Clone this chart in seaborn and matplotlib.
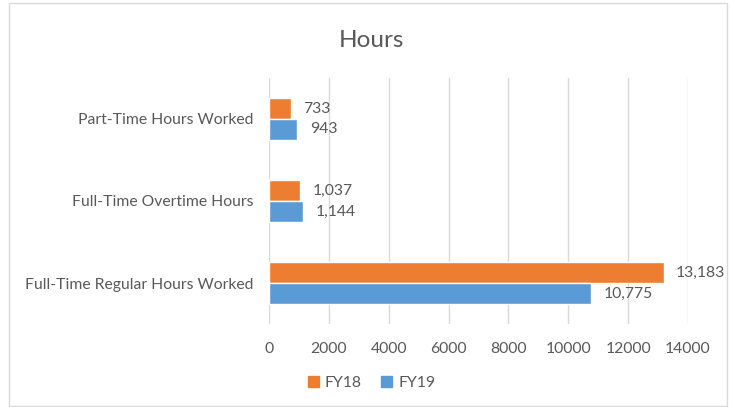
import numpy as np
import pandas as pd
import matplotlib.pyplot as plt
import matplotlib.patches as mpatches
import seaborn as sns

categories = ["Part-Time Hours Worked", "Full-Time Overtime Hours", "Full-Time Regular Hours Worked"]
fy18 = [733, 1037, 13183]
fy19 = [943, 1144, 10775]
years = ["FY18", "FY19"]

df = pd.DataFrame({
    "category": categories * 2,
    "hours": fy18 + fy19,
    "year": ["FY18"] * 3 + ["FY19"] * 3,
})

sns.set_style("white")
plt.rcParams["font.family"] = ["Lato", "DejaVu Sans"]
txt = "#595959"
colors = {"FY18": "#ED7D31", "FY19": "#5B9BD5"}
fs = 11.3

fig = plt.figure(figsize=(7.34, 4.07), dpi=100)
ax = fig.add_axes([0.3665, 0.2039, 0.9373 - 0.3665, 0.8084 - 0.2039])

sns.barplot(data=df, y="category", x="hours", hue="year", order=categories,
            hue_order=years, palette=colors, orient="h", width=0.51,
            ax=ax, legend=False, saturation=1)

for c in ax.containers:
    ax.bar_label(c, labels=[f"{v:,.0f}" for v in c.datavalues], padding=9,
                 fontsize=fs, color=txt)

ax.set_xlim(0, 14000)
ax.set_xticks(np.arange(0, 14001, 2000))
ax.xaxis.grid(True, color="#D9D9D9", linewidth=1)
ax.set_axisbelow(True)
for s in ax.spines.values():
    s.set_visible(False)
ax.set_xlabel("")
ax.set_ylabel("")
ax.tick_params(axis="x", length=0, pad=13, labelsize=fs, labelcolor=txt)
ax.tick_params(axis="y", length=0, pad=11, labelsize=fs, labelcolor=txt)

fig.text(0.506, 0.9, "Hours", ha="center", va="center", fontsize=17.5, color=txt)

handles = [mpatches.Patch(color=colors[y], label=y) for y in years]
fig.legend(handles=handles, loc="center", bbox_to_anchor=(0.506, 0.059), ncol=2,
           frameon=False, fontsize=fs, labelcolor=txt, handlelength=0.7,
           handleheight=0.7, handletextpad=0.4, columnspacing=1.2)

fig.patches.append(mpatches.Rectangle((9 / 734, 0.002), 718 / 734, 0.99,
                                      transform=fig.transFigure, fill=False,
                                      edgecolor="#D9D9D9", linewidth=1))

fig.savefig("out.png", dpi=100)
